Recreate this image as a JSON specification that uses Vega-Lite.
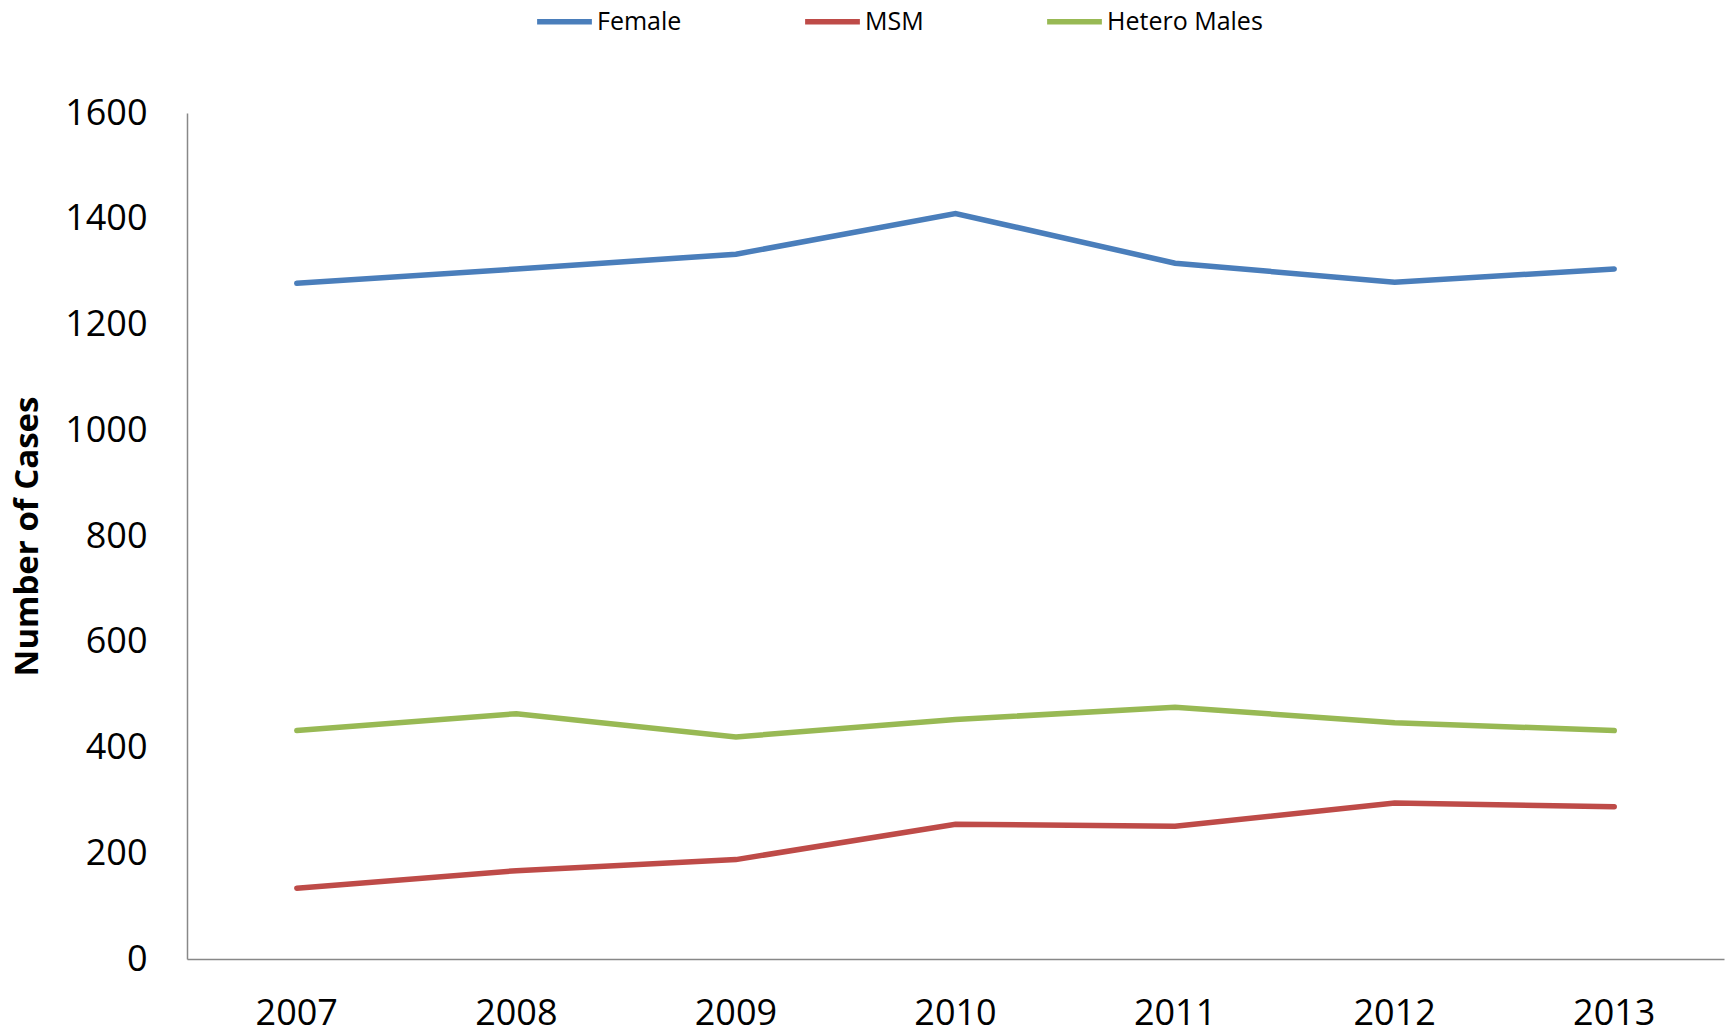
{
  "$schema": "https://vega.github.io/schema/vega-lite/v6.json",
  "autosize": {"type": "none"},
  "width": 1537,
  "height": 846,
  "padding": {"left": 187, "top": 113, "right": 9, "bottom": 77},
  "background": "white",
  "data": {
    "values": [
      {"year": "2007", "group": "Female", "cases": 1278},
      {"year": "2008", "group": "Female", "cases": 1305},
      {"year": "2009", "group": "Female", "cases": 1333},
      {"year": "2010", "group": "Female", "cases": 1410},
      {"year": "2011", "group": "Female", "cases": 1316},
      {"year": "2012", "group": "Female", "cases": 1280},
      {"year": "2013", "group": "Female", "cases": 1305},
      {"year": "2007", "group": "MSM", "cases": 134},
      {"year": "2008", "group": "MSM", "cases": 167},
      {"year": "2009", "group": "MSM", "cases": 188},
      {"year": "2010", "group": "MSM", "cases": 255},
      {"year": "2011", "group": "MSM", "cases": 251},
      {"year": "2012", "group": "MSM", "cases": 295},
      {"year": "2013", "group": "MSM", "cases": 288},
      {"year": "2007", "group": "Hetero Males", "cases": 432},
      {"year": "2008", "group": "Hetero Males", "cases": 464},
      {"year": "2009", "group": "Hetero Males", "cases": 420},
      {"year": "2010", "group": "Hetero Males", "cases": 453},
      {"year": "2011", "group": "Hetero Males", "cases": 476},
      {"year": "2012", "group": "Hetero Males", "cases": 447},
      {"year": "2013", "group": "Hetero Males", "cases": 432}
    ]
  },
  "config": {
    "view": {"stroke": null},
    "font": "Open Sans"
  },
  "mark": {"type": "line", "strokeWidth": 5.5, "strokeCap": "round", "strokeJoin": "miter"},
  "encoding": {
    "x": {
      "field": "year",
      "type": "ordinal",
      "scale": {"type": "band", "paddingInner": 0, "paddingOuter": 0},
      "axis": {
        "title": null,
        "labelAngle": 0,
        "labelFont": "Open Sans",
        "labelFontSize": 36,
        "labelColor": "#000000",
        "labelPadding": 37,
        "ticks": false,
        "domainColor": "#888888",
        "domainWidth": 1.5,
        "grid": false
      }
    },
    "y": {
      "field": "cases",
      "type": "quantitative",
      "scale": {"domain": [0, 1600], "nice": false},
      "axis": {
        "title": "Number of Cases",
        "titleFont": "Open Sans",
        "titleFontSize": 33,
        "titleFontWeight": "bold",
        "titleColor": "#000000",
        "titleX": -160,
        "titleBaseline": "middle",
        "values": [0, 200, 400, 600, 800, 1000, 1200, 1400, 1600],
        "format": "d",
        "labelFont": "Open Sans",
        "labelFontSize": 36,
        "labelColor": "#000000",
        "labelPadding": 40,
        "ticks": false,
        "grid": false,
        "domainColor": "#888888",
        "domainWidth": 1.5
      }
    },
    "color": {
      "field": "group",
      "type": "nominal",
      "scale": {
        "domain": ["Female", "MSM", "Hetero Males"],
        "range": ["#4A7EBB", "#BE4B48", "#98B954"]
      },
      "legend": {
        "title": null,
        "orient": "none",
        "direction": "horizontal",
        "legendX": 347,
        "legendY": -122,
        "symbolType": "stroke",
        "symbolSize": 3000,
        "symbolStrokeWidth": 5.5,
        "labelFont": "Open Sans",
        "labelFontSize": 25,
        "labelColor": "#000000",
        "labelOffset": 2,
        "columnPadding": 112
      }
    }
  }
}
